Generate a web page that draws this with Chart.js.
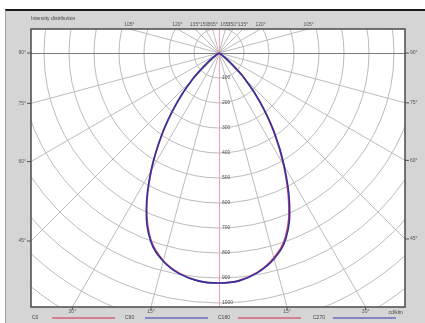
<!DOCTYPE html>
<html>
<head>
<meta charset="utf-8">
<script src="https://cdn.jsdelivr.net/npm/chart.js@4.4.0/dist/chart.umd.min.js"></script>
<style>
  html, body { margin: 0; padding: 0; background: #fff; }
  #wrap { position: relative; width: 425px; height: 323px; overflow: hidden; }
  #panel { position: absolute; left: 5px; top: 9px; width: 420px; height: 314px; background: #d5d5d5;
           border-top: 2px solid #1a1a1a; border-left: 1px solid #a0a0a0; box-sizing: border-box; }
  canvas { position: absolute; left: 0; top: 0; }
</style>
</head>
<body>
<div id="wrap">
  <div id="panel"></div>
  <canvas id="lidc" width="425" height="323"></canvas>
</div>
<script>
// Polar angles (gamma, from nadir) and intensities in cd/klm per half-plane
const GAMMA = [0, 5, 10, 15, 20, 25, 30, 35, 40, 45, 50, 55, 60, 65, 70, 75, 80, 85, 90];
const C0   = [920, 914, 890, 848, 780, 660, 516, 378, 252, 144, 56, 14, 4, 0, 0, 0, 0, 0, 0];
const C180 = [920, 916, 896, 860, 796, 684, 540, 396, 264, 152, 60, 16, 4, 0, 0, 0, 0, 0, 0];
const C90  = [920, 915, 892, 852, 786, 668, 522, 384, 256, 148, 58, 15, 4, 0, 0, 0, 0, 0, 0];
const C270 = [920, 916, 898, 862, 800, 688, 544, 400, 268, 154, 62, 16, 4, 0, 0, 0, 0, 0, 0];

// Grid: circles (cd/klm) and radial lines (degrees from nadir)
const RINGS = [100, 200, 300, 400, 500, 600, 700, 800, 900, 1000, 1100, 1200, 1300];
const SPOKES = [0, 15, 30, 45, 60, 75, 90, 105, 120, 135, 150, 165, 180];

const LEGEND_LABELS = ['C0', 'C90', 'C180', 'C270'];
const TITLE = 'Intensity distribution';
const UNIT = 'cd/klm';

const RED = '#cf3f6a';
const BLUE = '#33339f';

function halfPlane(values, side) {
    return GAMMA.map((g, i) => {
        const a = g * Math.PI / 180;
        return { x: side * values[i] * Math.sin(a), y: -values[i] * Math.cos(a) };
    });
}

function plane(left, right) {
    return halfPlane(left, -1).reverse().concat(halfPlane(right, 1).slice(1));
}

// Draws the polar grid, border, angle and value labels, legend
const polarGrid = {
    id: 'polarGrid',
    beforeDatasetsDraw(chart) {
        const { ctx, chartArea: ca, scales: { x, y } } = chart;
        const cx = x.getPixelForValue(0);
        const cy = y.getPixelForValue(0);
        const k = x.getPixelForValue(100) - cx; // px per 100 cd/klm

        ctx.save();
        ctx.fillStyle = '#fff';
        ctx.fillRect(ca.left, ca.top, ca.right - ca.left, ca.bottom - ca.top);
        ctx.beginPath();
        ctx.rect(ca.left, ca.top, ca.right - ca.left, ca.bottom - ca.top);
        ctx.clip();

        ctx.strokeStyle = '#bcbcbc';
        ctx.lineWidth = 1;
        RINGS.forEach(v => {
            ctx.beginPath();
            ctx.arc(cx, cy, v / 100 * k, 0, Math.PI * 2);
            ctx.stroke();
        });
        SPOKES.forEach(g => {
            if (g === 0 || g === 90 || g === 180) return;
            const a = g * Math.PI / 180;
            [-1, 1].forEach(s => {
                ctx.beginPath();
                ctx.moveTo(cx, cy);
                ctx.lineTo(cx + s * 700 * Math.sin(a), cy + 700 * Math.cos(a));
                ctx.stroke();
            });
        });
        // 90 deg line
        ctx.strokeStyle = '#7a7a7a';
        ctx.beginPath();
        ctx.moveTo(ca.left, Math.round(cy) + 0.5);
        ctx.lineTo(ca.right, Math.round(cy) + 0.5);
        ctx.stroke();
        // nadir line
        ctx.strokeStyle = '#f0a0a8';
        ctx.beginPath();
        ctx.moveTo(Math.round(cx) + 0.5, ca.top);
        ctx.lineTo(Math.round(cx) + 0.5, ca.bottom);
        ctx.stroke();

        // ring values along nadir
        ctx.fillStyle = '#555';
        ctx.font = '5px "Liberation Sans", Arial, sans-serif';
        ctx.textAlign = 'left';
        ctx.textBaseline = 'middle';
        RINGS.forEach(v => {
            const py = cy + v / 100 * k;
            if (py < ca.bottom - 4) ctx.fillText(String(v), cx + 3, py);
        });
        ctx.restore();
    },
    afterDraw(chart) {
        const { ctx, chartArea: ca, scales: { x, y } } = chart;
        const cx = x.getPixelForValue(0);
        const cy = y.getPixelForValue(0);
        ctx.save();
        // plot border
        ctx.strokeStyle = '#4a4a4a';
        ctx.lineWidth = 1.5;
        ctx.strokeRect(ca.left, ca.top, ca.right - ca.left, ca.bottom - ca.top);

        // angle labels where spokes meet the border
        ctx.fillStyle = '#555';
        ctx.strokeStyle = '#555';
        ctx.lineWidth = 1;
        ctx.font = '5px "Liberation Sans", Arial, sans-serif';
        SPOKES.forEach(g => {
            if (g === 0 || g === 180) return;
            const a = g * Math.PI / 180;
            [-1, 1].forEach(s => {
                const dx = s * Math.sin(a), dy = Math.cos(a);
                let t = Infinity, edge = '';
                if (dx < -1e-9) { const tt = (ca.left - cx) / dx; if (tt < t) { t = tt; edge = 'l'; } }
                if (dx > 1e-9) { const tt = (ca.right - cx) / dx; if (tt < t) { t = tt; edge = 'r'; } }
                if (dy > 1e-9) { const tt = (ca.bottom - cy) / dy; if (tt < t) { t = tt; edge = 'b'; } }
                if (dy < -1e-9) { const tt = (ca.top - cy) / dy; if (tt < t) { t = tt; edge = 't'; } }
                const px = cx + dx * t, py = cy + dy * t;
                const label = g + '°';
                ctx.beginPath();
                if (edge === 'l') {
                    ctx.moveTo(ca.left, py); ctx.lineTo(ca.left - 4, py);
                    ctx.textAlign = 'right'; ctx.textBaseline = 'middle';
                    ctx.fillText(label, ca.left - 5, py);
                } else if (edge === 'r') {
                    ctx.moveTo(ca.right, py); ctx.lineTo(ca.right + 4, py);
                    ctx.textAlign = 'left'; ctx.textBaseline = 'middle';
                    ctx.fillText(label, ca.right + 5, py);
                } else if (edge === 'b') {
                    ctx.moveTo(px, ca.bottom); ctx.lineTo(px, ca.bottom + 3);
                    ctx.textAlign = 'center'; ctx.textBaseline = 'top';
                    ctx.fillText(label, px, ca.bottom + 2);
                } else {
                    ctx.textAlign = 'center'; ctx.textBaseline = 'bottom';
                    ctx.fillText(label, px, ca.top - 2);
                }
                ctx.stroke();
            });
        });

        // title and unit
        ctx.fillStyle = '#444';
        ctx.textAlign = 'left';
        ctx.textBaseline = 'middle';
        ctx.font = '5px "Liberation Sans", Arial, sans-serif';
        ctx.fillText(TITLE, ca.left, 19);

        // legend row
        const ly = 318;
        const slots = [32, 125, 218, 313];
        const colors = ['#d4808f', '#8585c4', '#d4808f', '#8585c4'];
        LEGEND_LABELS.forEach((lab, i) => {
            ctx.fillStyle = '#444';
            ctx.fillText(lab, slots[i], ly);
            ctx.strokeStyle = colors[i];
            ctx.lineWidth = 2;
            ctx.beginPath();
            ctx.moveTo(slots[i] + 20, ly);
            ctx.lineTo(slots[i] + 83, ly);
            ctx.stroke();
        });
        ctx.fillStyle = '#444';
        ctx.textAlign = 'right';
        ctx.fillText(UNIT, ca.right - 2, ca.bottom + 6);
        ctx.restore();
    }
};

new Chart(document.getElementById('lidc'), {
    type: 'scatter',
    data: {
        datasets: [
            {
                label: 'C90 - C270',
                data: plane(C270, C90),
                showLine: true,
                borderColor: BLUE,
                borderWidth: 1.6,
                pointRadius: 0,
                tension: 0.4
            },
            {
                label: 'C0 - C180',
                data: plane(C180, C0),
                showLine: true,
                borderColor: RED,
                borderWidth: 1.6,
                pointRadius: 0,
                tension: 0.4
            }
        ]
    },
    options: {
        responsive: false,
        animation: false,
        layout: { padding: { left: 31, top: 29, right: 20, bottom: 16 } },
        scales: {
            x: { type: 'linear', display: false, min: -752, max: 744 },
            y: { type: 'linear', display: false, min: -1016, max: 96 }
        },
        plugins: {
            legend: { display: false },
            tooltip: { enabled: false }
        }
    },
    plugins: [polarGrid]
});
</script>
</body>
</html>
